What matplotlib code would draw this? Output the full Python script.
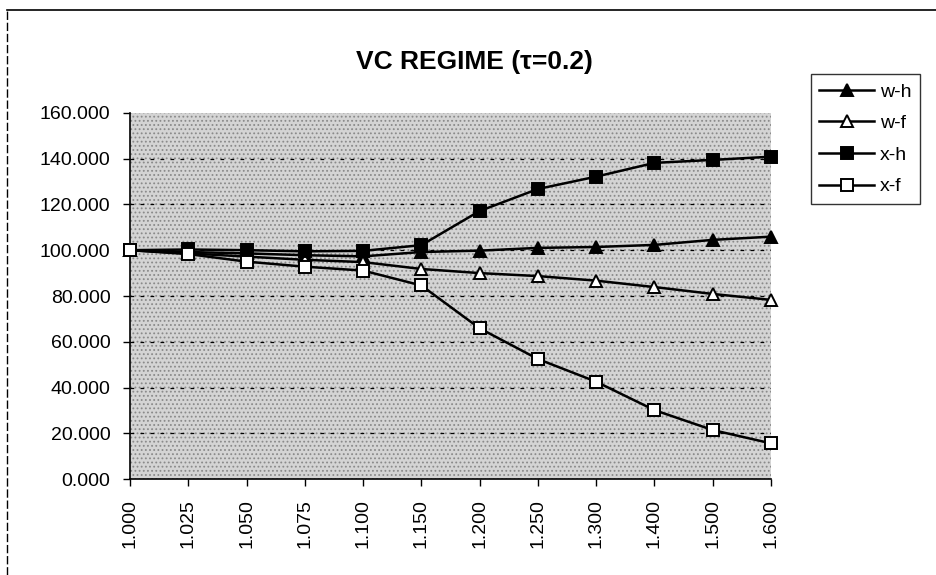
import matplotlib
matplotlib.use("Agg")
import matplotlib.pyplot as plt
from matplotlib.lines import Line2D
from matplotlib.patches import Rectangle

plt.rcParams['font.family'] = ['Liberation Sans', 'DejaVu Sans']
plt.rcParams['hatch.linewidth'] = 0.8

categories = ['1.000', '1.025', '1.050', '1.075', '1.100', '1.150',
              '1.200', '1.250', '1.300', '1.400', '1.500', '1.600']

w_h = [100.0, 99.2, 98.6, 97.8, 97.3, 99.2, 99.8, 101.0, 101.4, 102.3, 104.5, 105.9]
w_f = [100.0, 98.6, 97.2, 95.8, 94.8, 91.8, 90.0, 88.7, 86.7, 83.9, 80.9, 78.3]
x_h = [100.0, 100.3, 100.0, 99.5, 99.7, 102.2, 117.1, 126.7, 132.1, 138.1, 139.4, 140.8]
x_f = [100.0, 98.3, 95.0, 92.8, 91.1, 84.6, 65.9, 52.5, 42.6, 30.2, 21.5, 15.7]

yticks = [0, 20, 40, 60, 80, 100, 120, 140, 160]

fig = plt.figure(figsize=(9.36, 5.75), dpi=100)
ax = fig.add_axes([0.1389, 0.1664, 0.6848, 0.6376])

# stippled grey plot area
ax.patch.set_facecolor('#d4d4d4')
ax.add_patch(Rectangle((0, 0), 1, 1, transform=ax.transAxes, facecolor='none',
                       edgecolor='#8a8a8a', hatch='....', lw=0, zorder=0.5))

xs = range(len(categories))
style = dict(color='black', lw=1.8, markersize=9, markeredgewidth=1.4,
             markeredgecolor='black', clip_on=False, zorder=3)
ax.plot(xs, w_h, marker='^', markerfacecolor='black', label='w-h', **style)
ax.plot(xs, w_f, marker='^', markerfacecolor='white', label='w-f', **style)
ax.plot(xs, x_h, marker='s', markerfacecolor='black', label='x-h', **style)
ax.plot(xs, x_f, marker='s', markerfacecolor='white', label='x-f', **style)

ax.set_xlim(0, len(categories) - 1)
ax.set_ylim(0, 160)
ax.set_yticks(yticks)
ax.set_yticklabels(['%.3f' % v for v in yticks], fontsize=14)
ax.set_xticks(list(xs))
ax.set_xticklabels(categories, rotation=90, fontsize=14)
ax.tick_params(axis='both', direction='out', length=5, width=1, pad=9)

for y in yticks[1:-1]:
    ax.axhline(y, color='black', lw=0.9, ls=(0, (3, 5)), zorder=1)

ax.spines['top'].set_visible(False)
ax.spines['right'].set_visible(False)
ax.spines['left'].set_linewidth(1.2)
ax.spines['bottom'].set_linewidth(1.2)

fig.text(0.507, 0.892, 'VC REGIME (\u03c4=0.2)', ha='center', va='center',
         fontsize=19, fontweight='bold')

leg = fig.legend(loc='upper left', bbox_to_anchor=(0.866, 0.871),
                 fontsize=14, frameon=True, fancybox=False, handlelength=2.8,
                 handletextpad=0.3, labelspacing=0.72, borderpad=0.45,
                 borderaxespad=0)
leg.get_frame().set_edgecolor('black')
leg.get_frame().set_linewidth(1.0)

# chart area border
fig.add_artist(Line2D([0.0075, 1.0], [0.9826, 0.9826], color='black', lw=1.2))
fig.add_artist(Line2D([0.0075, 0.0075], [0.0, 0.9826], color='black', lw=1.0,
                      ls=(0, (6, 2))))

fig.savefig('out.png', dpi=100)
